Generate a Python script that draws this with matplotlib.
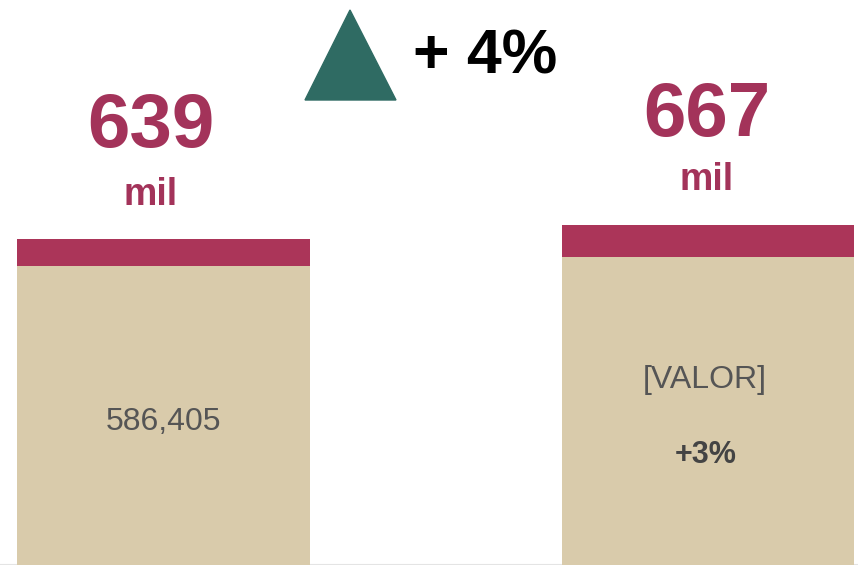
import matplotlib.pyplot as plt
from matplotlib.patches import Polygon

# valores en miles
categorias = ['anterior', 'actual']
base = [586.405, 604.0]
extra = [52.595, 63.0]
totales = [639, 667]
etiquetas_base = ['586,405', '[VALOR]']
etiquetas_var = ['', '+3%']
variacion = '+ 4%'

color_base = '#d9cbab'
color_extra = '#ab3559'
color_total = '#a3335a'

fig = plt.figure(figsize=(8.58, 5.70), dpi=100)
fig.patch.set_facecolor('white')
ax = fig.add_axes([0, 5 / 570, 1, 565 / 570])

x = range(len(categorias))
ax.bar(x, base, width=0.538, color=color_base, zorder=2)
ax.bar(x, extra, bottom=base, width=0.538, color=color_extra, zorder=2)

ax.set_xlim(-0.3003, 1.2755)
ax.set_ylim(0, 565 * 639 / 326)
ax.axis('off')
ax.axhline(0, color='#e4e4e4', lw=1.5, zorder=1)

# total arriba de cada barra (el de la izquierda va algo corrido)
desplaza_x = [-9, -1]
desplaza_y = [80, 78]
for i, tot in enumerate(totales):
    ax.annotate(str(tot), (i, tot), xytext=(desplaza_x[i], desplaza_y[i]),
                textcoords='offset points', ha='center', va='center', fontsize=55,
                fontweight='bold', color=color_total, family='Liberation Sans')
    ax.annotate('mil', (i, tot), xytext=(desplaza_x[i], 32), textcoords='offset points',
                ha='center', va='center', fontsize=27, fontweight='bold',
                color=color_total, family='Liberation Sans')

# etiquetas dentro de la parte beige
for i, b in enumerate(base):
    if etiquetas_var[i]:
        ax.annotate(etiquetas_base[i], (i, b / 2), xytext=(-2, 22), textcoords='offset points',
                    ha='center', va='center', fontsize=23, color='#555555',
                    family='Liberation Sans')
        ax.annotate(etiquetas_var[i], (i, b / 2), xytext=(-2, -32),
                    textcoords='offset points', ha='center', va='center', fontsize=22,
                    fontweight='bold', color='#444444', family='Liberation Sans')
    else:
        ax.annotate(etiquetas_base[i], (i, b / 2), xytext=(0, -5), textcoords='offset points',
                    ha='center', va='center', fontsize=23, color='#555555',
                    family='Liberation Sans')

# flecha de crecimiento
tri = Polygon([[305 / 858, 1 - 100 / 570], [350 / 858, 1 - 10 / 570], [396 / 858, 1 - 100 / 570]],
              closed=True, transform=fig.transFigure, color='#2f6b63')
fig.patches.append(tri)
fig.text(413 / 858, 1 - 57 / 570, variacion, ha='left', va='center', fontsize=45,
         fontweight='bold', color='black', family='Liberation Sans')

fig.savefig('out.png', dpi=100)
